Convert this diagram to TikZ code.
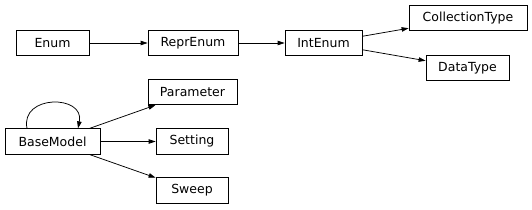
\documentclass[tikz,border=0pt]{standalone}
\usepackage{fontspec}
\setmainfont{DejaVu Sans}
\usetikzlibrary{arrows.meta}
\begin{document}
\begin{tikzpicture}[x=1pt, y=-1pt, >={Triangle[length=7pt,width=4.5pt]},
  cls/.style={draw=black, line width=0.75pt, inner sep=0pt, minimum height=25.5pt,
    font=\fontsize{12.5}{14}\selectfont},
  inh/.style={->, line width=0.75pt}]
  \useasboundingbox (0,0) rectangle (532,209);
  % enum branch
  \node[cls, minimum width=73pt] (enum) at (52.5,43) {Enum};
  \node[cls, minimum width=90pt] (repr) at (193,43) {ReprEnum};
  \node[cls, minimum width=77pt] (inte) at (323.5,43) {IntEnum};
  \node[cls, minimum width=118pt] (coll) at (468,18) {CollectionType};
  \node[cls, minimum width=83pt] (dtype) at (467.5,68) {DataType};
  % model branch
  \node[cls, minimum width=95pt] (base) at (52.5,141.5) {BaseModel};
  \node[cls, minimum width=89pt] (param) at (192.5,92) {Parameter};
  \node[cls, minimum width=72pt] (sett) at (192,141.5) {Setting};
  \node[cls, minimum width=72pt] (sweep) at (192,190.5) {Sweep};
  \draw[inh] (enum) -- (repr);
  \draw[inh] (repr) -- (inte);
  \draw[inh] (inte) -- (coll);
  \draw[inh] (inte) -- (dtype);
  \draw[inh] (base) -- (param);
  \draw[inh] (base) -- (sett);
  \draw[inh] (base) -- (sweep);
  \draw[inh] ([xshift=-25.5pt]base.north) .. controls +(-7,-34) and +(7,-34) .. ([xshift=25.5pt]base.north);
\end{tikzpicture}
\end{document}
